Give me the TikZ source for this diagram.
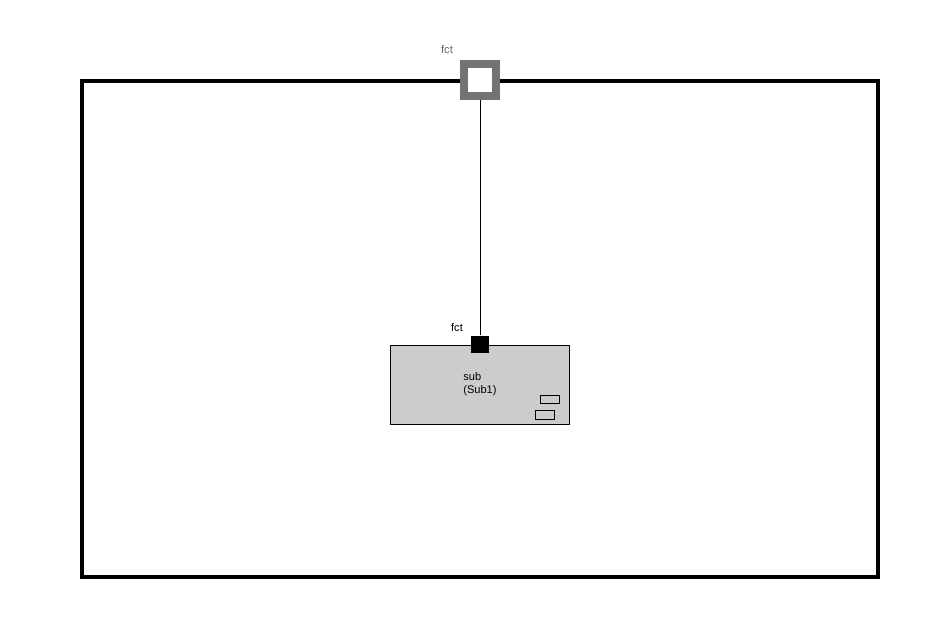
\documentclass[tikz,border=0pt]{standalone}
\usepackage{fontspec}
\setmainfont{Liberation Sans}
\usetikzlibrary{positioning}

\tikzset{
  lbl/.style={font=\fontsize{6.3}{7.5}\selectfont, inner sep=0pt},
  tiny/.style={draw, line width=0.5pt, minimum width=0.38cm, minimum height=0.17cm, inner sep=0pt}
}

\begin{document}
\begin{tikzpicture}[x=0.02cm, y=-0.02cm]
  \useasboundingbox (0,0) rectangle (925,625);
  % outer frame
  \draw[line width=2pt] (82,81) rectangle (878,577);
  % top port
  \node[draw=black!55, fill=white, line width=4.5pt, minimum size=0.64cm, inner sep=0pt] (topport) at (480,80) {};
  \node[lbl, text=black!60] (toplbl) at (447,50) {fct};
  % subsystem
  \node[draw, fill=black!20, line width=0.5pt, minimum width=3.58cm, minimum height=1.58cm, inner sep=0pt] (sub) at (479.5,385) {};
  \node[lbl, align=left, anchor=north west] (subtxt) at (463,372) {sub\\(Sub1)};
  \node[tiny] (r1) at (550,399.5) {};
  \node[tiny] (r2) at (545,415) {};
  % sub port
  \node[fill=black, minimum size=0.35cm, inner sep=0pt] (subport) at (480,344.5) {};
  \node[lbl] (sublbl) at (457,328) {fct};
  \draw[line width=0.5pt] (topport.south) -- (subport.north);
\end{tikzpicture}
\end{document}
